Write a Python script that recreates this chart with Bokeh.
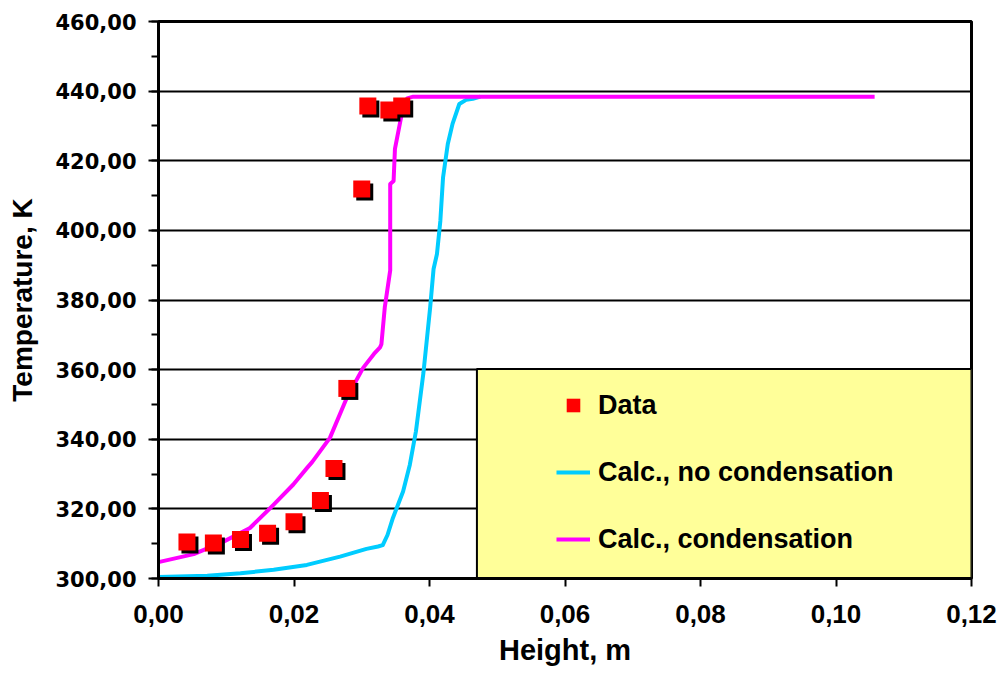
from bokeh.plotting import figure
from bokeh.models import (Range1d, SingleIntervalTicker, CustomJSTickFormatter,
                          Legend, LegendItem, ColumnDataSource)
from bokeh.embed import file_html
from bokeh.resources import INLINE

# ---- data ----
data_height = [0.0042, 0.0081, 0.0121, 0.0161, 0.0200, 0.0239, 0.0259, 0.0278,
               0.0300, 0.0309, 0.0340, 0.0359]
data_temp = [310.5, 310.2, 311.2, 313.0, 316.3, 322.4, 331.6, 354.6,
             411.9, 435.7, 434.6, 435.7]

cond_height = [0.0000, 0.0052, 0.0096, 0.0135, 0.0170, 0.0199, 0.0219, 0.0227,
               0.0253, 0.0278, 0.0302, 0.0318, 0.0327, 0.0329, 0.0334, 0.0342,
               0.0342, 0.0342, 0.0347, 0.0349, 0.0359, 0.0367, 0.0376, 0.1057]
cond_temp = [304.7, 307.0, 310.6, 314.5, 321.2, 327.0, 331.7, 333.5,
             340.4, 351.9, 360.5, 364.5, 366.4, 367.3, 377.9, 388.5,
             402.7, 413.3, 414.2, 423.4, 433.4, 437.9, 438.4, 438.4]

nocond_height = [0.0000, 0.0072, 0.0121, 0.0170, 0.0219, 0.0268, 0.0307, 0.0324,
                 0.0331, 0.0338, 0.0346, 0.0361, 0.0371, 0.0380, 0.0391, 0.0401,
                 0.0406, 0.0411, 0.0416, 0.0420, 0.0427, 0.0434, 0.0444, 0.0454,
                 0.0464, 0.0475]
nocond_temp = [300.4, 300.8, 301.5, 302.5, 303.9, 306.3, 308.5, 309.2,
               309.6, 312.5, 317.4, 325.0, 332.7, 342.3, 359.0, 377.9,
               388.9, 393.2, 402.7, 415.2, 424.8, 430.6, 436.3, 437.5,
               437.8, 438.4]

legend_labels = ["Data", "Calc., no condensation", "Calc., condensation"]
x_title = "Height, m"
y_title = "Temperature, K"

LABEL_FONT = "Liberation Sans"

p = figure(width=1003, height=679, x_range=Range1d(0, 0.12), y_range=Range1d(300, 460),
           output_backend="svg", toolbar_location=None,
           min_border_left=158, min_border_right=32, min_border_top=21, min_border_bottom=101)
p.background_fill_color = "white"
p.border_fill_color = "white"
p.outline_line_color = "black"
p.outline_line_width = 3

# grid
p.xgrid.visible = False
p.ygrid.grid_line_color = "black"
p.ygrid.grid_line_width = 2

# x axis
p.xaxis.ticker = SingleIntervalTicker(interval=0.02, num_minor_ticks=0)
p.xaxis.formatter = CustomJSTickFormatter(code="return tick.toFixed(2).replace('.', ',');")
p.xaxis.axis_label = x_title
p.xaxis.axis_line_width = 3
p.xaxis.major_tick_line_width = 2
p.xaxis.major_tick_in = 0
p.xaxis.major_tick_out = 8
p.xaxis.minor_tick_line_color = None
p.xaxis.major_label_text_font = LABEL_FONT
p.xaxis.major_label_text_font_style = "bold"
p.xaxis.major_label_text_font_size = "26px"
p.xaxis.major_label_text_color = "black"
p.xaxis.major_label_standoff = 18
p.xaxis.axis_label_text_font = LABEL_FONT
p.xaxis.axis_label_text_font_style = "bold"
p.xaxis.axis_label_text_font_size = "29px"
p.xaxis.axis_label_text_color = "black"
p.xaxis.axis_label_standoff = 8

# y axis
p.yaxis.ticker = SingleIntervalTicker(interval=20, num_minor_ticks=2)
p.yaxis.formatter = CustomJSTickFormatter(code="return tick.toFixed(2).replace('.', ',');")
p.yaxis.axis_label = y_title
p.yaxis.axis_line_width = 3
p.yaxis.major_tick_line_width = 2
p.yaxis.major_tick_in = 0
p.yaxis.major_tick_out = 10
p.yaxis.minor_tick_line_width = 2
p.yaxis.minor_tick_in = 0
p.yaxis.minor_tick_out = 7
p.yaxis.major_label_text_font = "DejaVu Sans"
p.yaxis.major_label_text_font_style = "bold"
p.yaxis.major_label_text_font_size = "21px"
p.yaxis.major_label_text_color = "black"
p.yaxis.major_label_standoff = 12
p.yaxis.axis_label_text_font = LABEL_FONT
p.yaxis.axis_label_text_font_style = "bold"
p.yaxis.axis_label_text_font_size = "28px"
p.yaxis.axis_label_text_color = "black"
p.yaxis.axis_label_standoff = 14

# legend background box (yellow)
p.quad(left=[0.0470], right=[0.1200], bottom=[300.0], top=[360.2],
       fill_color="#FFFF99", line_color="black", line_width=2)

# curves
r_nocond = p.line(nocond_height, nocond_temp, line_color="#00CCFF", line_width=4,
                  line_join="round")
r_cond = p.line(cond_height, cond_temp, line_color="#FF00FF", line_width=4,
                line_join="round")

# data squares with drop shadow
dx = 0.02 * 3 / 135.5
dy = 160 * 3 / 557.0
shadow = ColumnDataSource(dict(x=[h + dx for h in data_height], y=[t - dy for t in data_temp]))
p.scatter("x", "y", source=shadow, marker="square", size=17, fill_color="black", line_color=None)
r_data = p.scatter(data_height, data_temp, marker="square", size=17,
                   fill_color="#FF0000", line_color=None)

legend = Legend(items=[LegendItem(label=legend_labels[0], renderers=[r_data]),
                       LegendItem(label=legend_labels[1], renderers=[r_nocond]),
                       LegendItem(label=legend_labels[2], renderers=[r_cond])],
                location=(398, 19))
legend.background_fill_alpha = 0
legend.border_line_color = None
legend.padding = 0
legend.margin = 0
legend.spacing = 27
legend.glyph_width = 34
legend.glyph_height = 40
legend.label_height = 40
legend.label_standoff = 8
legend.label_text_font = LABEL_FONT
legend.label_text_font_style = "bold"
legend.label_text_font_size = "27px"
legend.label_text_color = "black"
p.add_layout(legend, "center")

open("out.html", "w").write(file_html(p, INLINE))
